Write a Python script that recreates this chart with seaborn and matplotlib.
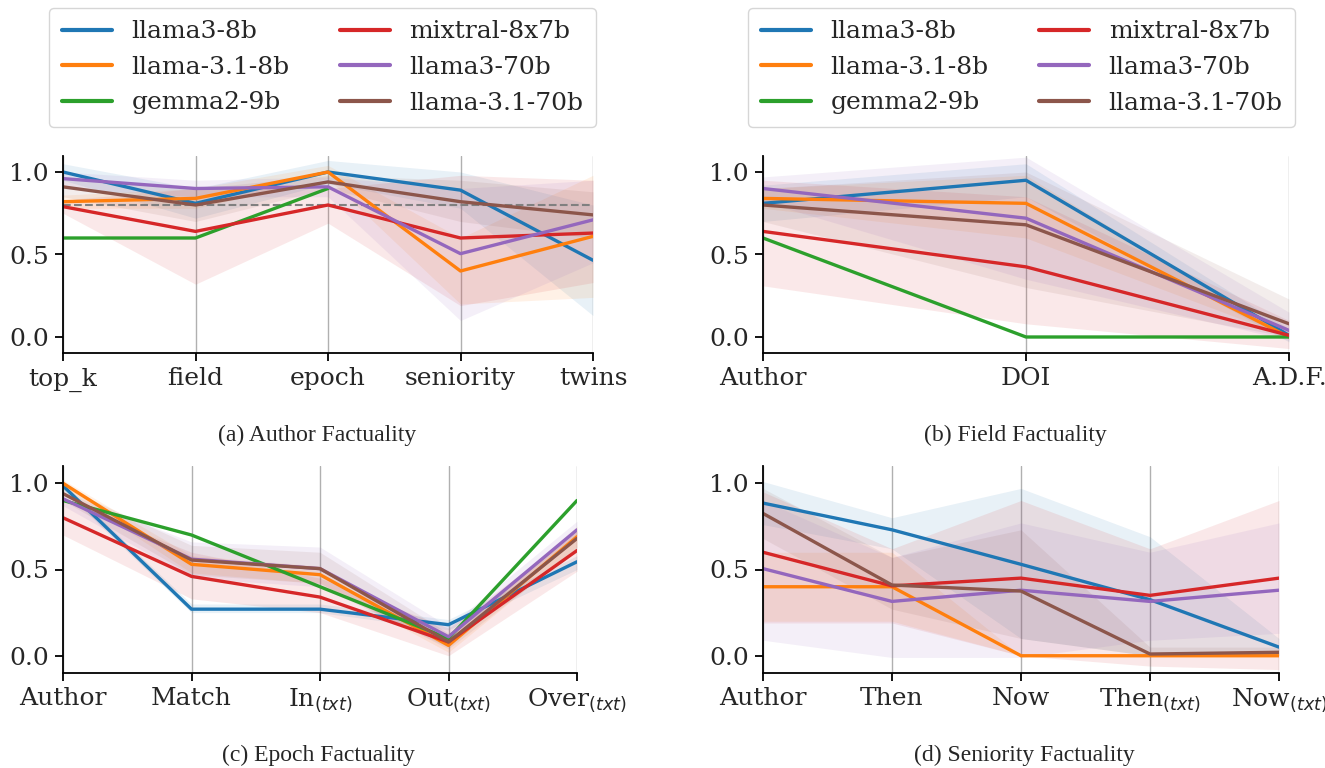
import numpy as np
import pandas as pd
import matplotlib
matplotlib.use("Agg")
import matplotlib.pyplot as plt
import seaborn as sns

sns.set_theme(style="ticks")
plt.rcParams['font.family'] = ['DejaVu Serif']
plt.rcParams['mathtext.fontset'] = 'dejavusans'

models = ["llama3-8b", "llama-3.1-8b", "gemma2-9b", "mixtral-8x7b", "llama3-70b", "llama-3.1-70b"]
colors = ["#1f77b4", "#ff7f0e", "#2ca02c", "#d62728", "#9467bd", "#8c564b"]

# ---------- (a) Author Factuality ----------
cats_a = ["top_k", "field", "epoch", "seniority", "twins"]
a_llama3_8b = [1.00, 0.81, 1.00, 0.89, 0.465]
a_llama31_8b = [0.82, 0.84, 1.00, 0.40, 0.61]
a_gemma2_9b = [0.60, 0.60, 0.90, np.nan, np.nan]
a_mixtral = [0.79, 0.64, 0.80, 0.60, 0.63]
a_llama3_70b = [0.96, 0.90, 0.91, 0.505, 0.71]
a_llama31_70b = [0.91, 0.80, 0.94, 0.82, 0.74]
a_lo = [[0.95, 0.72, 0.93, 0.78, 0.13], [0.78, 0.78, 0.96, 0.20, 0.24], [np.nan] * 5,
        [0.75, 0.32, 0.69, 0.19, 0.33], [0.90, 0.85, 0.85, 0.10, 0.45], [0.85, 0.70, 0.90, 0.70, 0.60]]
a_hi = [[1.05, 0.90, 1.07, 1.00, 0.80], [0.86, 0.90, 1.04, 0.60, 0.98], [np.nan] * 5,
        [0.83, 0.90, 0.90, 0.98, 0.95], [1.00, 0.95, 0.97, 0.90, 0.95], [0.97, 0.90, 0.98, 0.95, 0.88]]
a_ref = 0.8

# ---------- (b) Field Factuality ----------
cats_b = ["Author", "DOI", "A.D.F."]
b_llama3_8b = [0.81, 0.95, 0.01]
b_llama31_8b = [0.84, 0.81, 0.00]
b_gemma2_9b = [0.60, 0.00, 0.00]
b_mixtral = [0.64, 0.425, 0.01]
b_llama3_70b = [0.90, 0.72, 0.04]
b_llama31_70b = [0.80, 0.68, 0.08]
b_lo = [[0.70, 0.85, -0.03], [0.78, 0.60, 0.00], [np.nan] * 3,
        [0.31, 0.08, -0.07], [0.82, 0.35, -0.02], [0.70, 0.30, 0.00]]
b_hi = [[0.92, 1.05, 0.05], [0.90, 0.98, 0.00], [np.nan] * 3,
        [0.95, 0.85, 0.10], [0.97, 1.09, 0.15], [0.90, 1.00, 0.23]]

# ---------- (c) Epoch Factuality ----------
cats_c = ["Author", "Match", "In$_{(txt)}$", "Out$_{(txt)}$", "Over$_{(txt)}$"]
c_llama3_8b = [0.985, 0.27, 0.27, 0.18, 0.545]
c_llama31_8b = [1.00, 0.53, 0.47, 0.06, 0.69]
c_gemma2_9b = [0.90, 0.70, 0.40, 0.10, 0.90]
c_mixtral = [0.80, 0.46, 0.34, 0.08, 0.61]
c_llama3_70b = [0.91, 0.56, 0.505, 0.11, 0.73]
c_llama31_70b = [0.94, 0.555, 0.505, 0.08, 0.68]
c_lo = [[0.96, 0.25, 0.25, 0.15, 0.50], [0.97, 0.48, 0.42, 0.02, 0.63], [np.nan] * 5,
        [0.70, 0.33, 0.25, 0.00, 0.49], [0.87, 0.45, 0.40, 0.05, 0.68], [0.90, 0.47, 0.42, 0.04, 0.62]]
c_hi = [[1.00, 0.30, 0.30, 0.21, 0.58], [1.02, 0.58, 0.52, 0.10, 0.75], [np.nan] * 5,
        [0.90, 0.60, 0.45, 0.16, 0.72], [0.95, 0.66, 0.63, 0.17, 0.78], [0.98, 0.64, 0.60, 0.13, 0.74]]

# ---------- (d) Seniority Factuality ----------
cats_d = ["Author", "Then", "Now", "Then$_{(txt)}$", "Now$_{(txt)}$"]
d_llama3_8b = [0.885, 0.73, 0.53, 0.325, 0.05]
d_llama31_8b = [0.40, 0.40, 0.00, 0.00, 0.00]
d_gemma2_9b = [np.nan, np.nan, np.nan, np.nan, np.nan]
d_mixtral = [0.60, 0.405, 0.45, 0.35, 0.45]
d_llama3_70b = [0.505, 0.315, 0.38, 0.315, 0.38]
d_llama31_70b = [0.825, 0.41, 0.375, 0.01, 0.02]
d_lo = [[0.76, 0.62, 0.10, 0.00, 0.00], [0.20, 0.20, 0.00, 0.00, 0.00], [np.nan] * 5,
        [0.19, 0.19, 0.00, -0.06, -0.08], [0.09, -0.01, -0.01, 0.09, 0.13], [0.68, 0.27, 0.10, 0.00, 0.00]]
d_hi = [[1.01, 0.80, 0.97, 0.69, 0.10], [0.60, 0.60, 0.00, 0.00, 0.00], [np.nan] * 5,
        [0.95, 0.62, 0.90, 0.62, 0.90], [0.90, 0.57, 0.77, 0.60, 0.77], [0.97, 0.57, 0.73, 0.05, 0.05]]

panels = [
    (cats_a, [a_llama3_8b, a_llama31_8b, a_gemma2_9b, a_mixtral, a_llama3_70b, a_llama31_70b], a_lo, a_hi,
     "(a) Author Factuality"),
    (cats_b, [b_llama3_8b, b_llama31_8b, b_gemma2_9b, b_mixtral, b_llama3_70b, b_llama31_70b], b_lo, b_hi,
     "(b) Field Factuality"),
    (cats_c, [c_llama3_8b, c_llama31_8b, c_gemma2_9b, c_mixtral, c_llama3_70b, c_llama31_70b], c_lo, c_hi,
     "(c) Epoch Factuality"),
    (cats_d, [d_llama3_8b, d_llama31_8b, d_gemma2_9b, d_mixtral, d_llama3_70b, d_llama31_70b], d_lo, d_hi,
     "(d) Seniority Factuality"),
]

W, H = 1325, 768
fig = plt.figure(figsize=(W / 100, H / 100), dpi=100)

# axes boxes in pixels: (left, top, right, bottom)
boxes = [(63, 155.5, 593, 353.5), (763, 155.5, 1289, 353.5),
         (63, 466, 577, 673), (763, 466, 1279, 673)]
captions_xy = [(317, 435), (1015, 435), (318, 755), (1024, 755)]

palette = dict(zip(models, colors))
for i, (cats, series, lo, hi, cap) in enumerate(panels):
    l, t, r, b = boxes[i]
    ax = fig.add_axes([l / W, 1 - b / H, (r - l) / W, (b - t) / H])
    x = np.arange(len(cats))
    rows = []
    for m, vals in zip(models, series):
        for xi, v in zip(x, vals):
            rows.append({"x": xi, "y": v, "model": m})
    df = pd.DataFrame(rows).dropna()
    for m, lo_m, hi_m in zip(models, lo, hi):
        lo_m = np.array(lo_m, dtype=float)
        hi_m = np.array(hi_m, dtype=float)
        ok = ~np.isnan(lo_m)
        if ok.any():
            ax.fill_between(x[ok], lo_m[ok], hi_m[ok], color=palette[m], alpha=0.1, lw=0)
    sns.lineplot(data=df, x="x", y="y", hue="model", hue_order=models, palette=palette,
                 linewidth=2.4, ax=ax, legend=(i < 2), estimator=None)
    if i == 0:
        ax.axhline(a_ref, color="gray", ls="--", lw=1.5, zorder=1)
    ax.set_xlim(0, len(cats) - 1)
    ax.set_ylim(-0.1, 1.1)
    ax.set_xticks(x)
    ax.set_xticklabels(cats, fontsize=18)
    ax.set_yticks([0.0, 0.5, 1.0])
    ax.set_yticklabels(["0.0", "0.5", "1.0"], fontsize=18)
    ax.set_xlabel("")
    ax.set_ylabel("")
    ax.grid(axis="x", color="#b0b0b0", lw=1)
    ax.set_axisbelow(True)
    sns.despine(ax=ax)
    for s in ["left", "bottom"]:
        ax.spines[s].set_linewidth(1.3)
        ax.spines[s].set_color("black")
    ax.tick_params(axis="both", length=6, width=1.3, color="black", pad=4)
    if i < 2:
        h, lab = ax.get_legend_handles_labels()
        for hh in h:
            hh.set_linewidth(3)
        ax.legend(h, lab, ncol=2, fontsize=18, loc="upper left",
                  bbox_to_anchor=((49 if i == 0 else 748) / W, 1 - 8 / H),
                  bbox_transform=fig.transFigure, frameon=True, borderaxespad=0,
                  borderpad=0.5)
    cx, cy = captions_xy[i]
    fig.text(cx / W, 1 - cy / H, cap, ha="center", va="center",
             family="Liberation Serif", fontsize=17)

fig.savefig("out.png", dpi=100)
